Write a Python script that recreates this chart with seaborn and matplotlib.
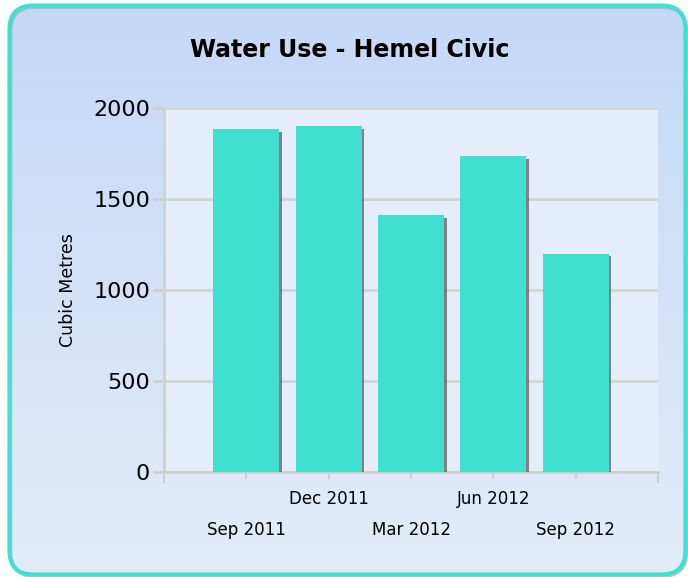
import numpy as np
import pandas as pd
import matplotlib
matplotlib.use("Agg")
import matplotlib.pyplot as plt
import matplotlib.patheffects as pe
from matplotlib.patches import FancyBboxPatch
import seaborn as sns

# ---- data ----
periods = ["Sep 2011", "Dec 2011", "Mar 2012", "Jun 2012", "Sep 2012"]
water_use = [1885, 1900, 1410, 1735, 1200]
y_ticks = [0, 500, 1000, 1500, 2000]
title = "Water Use - Hemel Civic"
y_label = "Cubic Metres"

df = pd.DataFrame({"period": periods, "value": water_use})

W, H = 688, 577
fig = plt.figure(figsize=(W / 100, H / 100), dpi=100)
fig.patch.set_facecolor("white")

# background panel with rounded turquoise border
bg = fig.add_axes([0, 0, 1, 1])
bg.set_xlim(0, W)
bg.set_ylim(0, H)
bg.axis("off")
box = FancyBboxPatch((9.5, 2.5), 676, 569, boxstyle="round,pad=0,rounding_size=24",
                     facecolor="none", edgecolor="#40E0D0", linewidth=3, zorder=3)
shadow = FancyBboxPatch((10.5, 0.8), 676, 569, boxstyle="round,pad=0,rounding_size=24",
                        facecolor="none", edgecolor="#9aa3ad", linewidth=2.5, alpha=0.6, zorder=2)
top_c = np.array([0xC4, 0xD8, 0xF5]) / 255
bot_c = np.array([0xE4, 0xEC, 0xFA]) / 255
t = np.linspace(0, 1, 256)[:, None]
grad = (top_c[None, :] * (1 - t) + bot_c[None, :] * t)[:, None, :]
im = bg.imshow(grad, extent=(9.5, 685.5, 2.5, 571.5), aspect="auto", origin="upper", zorder=1)
bg.add_patch(shadow)
bg.add_patch(box)
im.set_clip_path(box)

# main plot
ax = fig.add_axes([164 / W, 1 - 472 / H, (658 - 164) / W, (472 - 108) / H])
ax.set_facecolor("#E6EDFA")
sns.barplot(data=df, x="period", y="value", color="#40E0D0", saturation=1, width=0.8,
            ax=ax, zorder=3)
for p in ax.patches:
    p.set_edgecolor("none")
    p.set_path_effects([pe.SimplePatchShadow(offset=(2, -2), shadow_rgbFace="#555555", alpha=0.7),
                        pe.Normal()])

ax.set_xlim(-1, len(periods))
ax.set_ylim(0, 2000)
ax.set_yticks(y_ticks)
ax.set_yticklabels([str(v) for v in y_ticks], fontsize=16)
ax.yaxis.grid(True, color="#D4D4D4", linewidth=2, zorder=0)
ax.set_axisbelow(True)
for s in ["top", "right"]:
    ax.spines[s].set_visible(False)
for s in ["left", "bottom"]:
    ax.spines[s].set_color("#D0D0D0")
    ax.spines[s].set_linewidth(2)
ax.tick_params(axis="y", length=8, width=2, color="#D0D0D0", pad=2, labelcolor="black")
ax.tick_params(axis="x", length=5, width=1.5, color="#D0D0D0", labelsize=12, labelcolor="black")
ax.set_xticks(range(len(periods)))
ax.set_xticklabels(periods)
ax.set_xticks([-1, len(periods)], minor=True)
ax.tick_params(axis="x", which="minor", length=8, width=1.5, color="#D0D0D0")
for i, tk in enumerate(ax.xaxis.get_major_ticks()):
    tk.set_pad(30 if i % 2 == 0 else 8)
ax.set_xlabel("")
ax.set_ylabel(y_label, fontsize=12.5, labelpad=12)

fig.text(350 / W, 1 - 50 / H, title, ha="center", va="center", fontsize=17, fontweight="bold")

fig.savefig("out.png", dpi=100)
